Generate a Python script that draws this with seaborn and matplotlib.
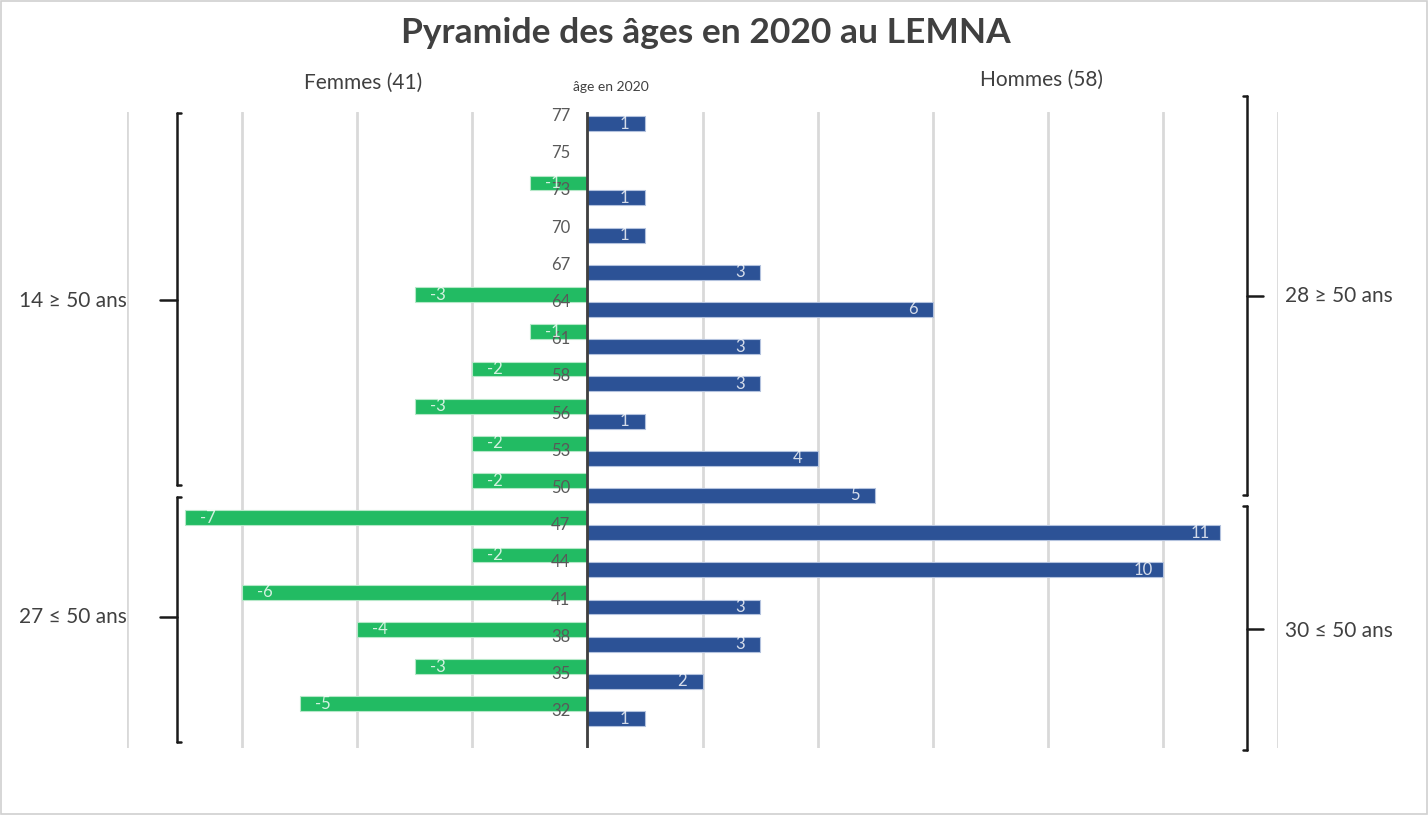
import matplotlib
matplotlib.use("Agg")
import matplotlib.pyplot as plt
from matplotlib.lines import Line2D
from matplotlib.patches import Rectangle
import seaborn as sns
import pandas as pd

# Pyramide des âges LEMNA 2020
ages = ['77', '75', '73', '70', '67', '64', '61', '58', '56', '53', '50',
        '47', '44', '41', '38', '35', '32']
femmes = [0, 0, -1, 0, 0, -3, -1, -2, -3, -2, -2, -7, -2, -6, -4, -3, -5]
hommes = [1, 0, 1, 1, 3, 6, 3, 3, 1, 4, 5, 11, 10, 3, 3, 2, 1]
x_ticks = [-8, -6, -4, -2, 0, 2, 4, 6, 8, 10, 12]

df = pd.DataFrame({
    'age': ages * 2,
    'n': femmes + hommes,
    'sexe': ['Femmes'] * len(ages) + ['Hommes'] * len(ages),
})

sns.set_style('white')
plt.rcParams['font.family'] = ['Lato', 'DejaVu Sans']

W, H = 1428, 815
fig = plt.figure(figsize=(W / 100, H / 100), dpi=100)
ax = fig.add_axes([127 / W, 1 - 748 / H, 1151 / W, (748 - 112) / H])

vert, bleu = '#22bb63', '#2c5296'
sns.barplot(data=df, y='age', x='n', hue='sexe', orient='h',
            palette={'Femmes': vert, 'Hommes': bleu}, width=0.8,
            saturation=1, dodge=True, legend=False, ax=ax)
for c, ec in zip(ax.containers, ['#b5e8c8', '#b3c2de']):
    for p in c:
        p.set_edgecolor(ec)
        p.set_linewidth(0.8)

ax.set_xlim(-8, 12)
ax.set_ylim(16.99, -0.11)
ax.set_xticks(x_ticks)
ax.xaxis.grid(True, color='#d9d9d9', linewidth=2)
ax.set_axisbelow(True)
ax.set_xticklabels([])
ax.set_yticks([])
ax.set_xlabel('')
ax.set_ylabel('')
for s in ax.spines.values():
    s.set_visible(False)
ax.tick_params(length=0)
ax.axvline(0, color='#404040', linewidth=2, zorder=5)

# âges le long de l'axe
for i, a in enumerate(ages):
    ax.text(-0.3, i, a, ha='right', va='center', fontsize=12, color='#595959', zorder=6)

# étiquettes de valeur
for c, vals in zip(ax.containers, [femmes, hommes]):
    for p, v in zip(c, vals):
        if v == 0:
            continue
        yc = p.get_y() + p.get_height() / 2
        xt = v - 0.35 if v > 0 else v + 0.4
        ax.text(xt, yc, str(v), ha='center', va='center', fontsize=12,
                color='white', alpha=0.8, zorder=6)


def fx(x):
    return x / W


def fy(y):
    return 1 - y / H


def trait(x0, y0, x1, y1, lw=1.8):
    fig.add_artist(Line2D([fx(x0), fx(x1)], [fy(y0), fy(y1)],
                          color='#1a1a1a', linewidth=lw))


# accolades gauche
for top, bot, mid in [(113, 485, 300), (497, 742, 617)]:
    trait(177, top, 177, bot)
    trait(177, top, 181, top)
    trait(177, bot, 181, bot)
    trait(160, mid, 177, mid)
# accolades droite
for top, bot, mid in [(96, 495, 296), (506, 750, 629)]:
    trait(1247, top, 1247, bot)
    trait(1243, top, 1247, top)
    trait(1243, bot, 1247, bot)
    trait(1247, mid, 1263, mid)

txt = dict(color='#404040', va='center')
fig.text(fx(706), fy(33), 'Pyramide des âges en 2020 au LEMNA', ha='center',
         fontsize=25.5, fontweight='bold', color='#404040', va='center')
fig.text(fx(363), fy(83), 'Femmes (41)', ha='center', fontsize=15, **txt)
fig.text(fx(1042), fy(80), 'Hommes (58)', ha='center', fontsize=15, **txt)
fig.text(fx(611), fy(87), 'âge en 2020', ha='center', fontsize=10, **txt)
fig.text(fx(19), fy(301), '14 ≥ 50 ans', ha='left', fontsize=15, **txt)
fig.text(fx(19), fy(617), '27 ≤ 50 ans', ha='left', fontsize=15, **txt)
fig.text(fx(1285), fy(296), '28 ≥ 50 ans', ha='left', fontsize=15, **txt)
fig.text(fx(1285), fy(631), '30 ≤ 50 ans', ha='left', fontsize=15, **txt)

fig.add_artist(Rectangle((0.001, 0.001), 0.998, 0.998, transform=fig.transFigure,
                         fill=False, edgecolor='#d0d0d0', linewidth=1.2))

fig.savefig('out.png', dpi=100)
